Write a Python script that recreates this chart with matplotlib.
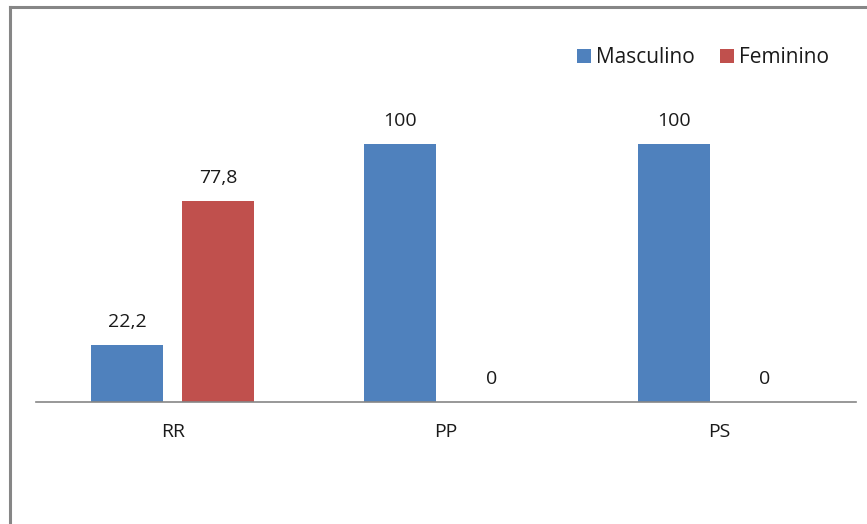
import matplotlib
matplotlib.use("Agg")
import matplotlib.pyplot as plt
from matplotlib.lines import Line2D
import numpy as np

categories = ["RR", "PP", "PS"]
masculino = [22.2, 100, 100]
feminino = [77.8, 0, 0]
labels_m = ["22,2", "100", "100"]
labels_f = ["77,8", "0", "0"]

plt.rcParams['font.family'] = ['Open Sans', 'DejaVu Sans']

W, H = 867, 524
fig = plt.figure(figsize=(W/100, H/100), dpi=100)

# frame lines (top and left visible)
fig.add_artist(Line2D([9.5/W, 1.0], [1-6.5/H, 1-6.5/H], color='#868686', lw=2.2, transform=fig.transFigure))
fig.add_artist(Line2D([9.5/W, 9.5/W], [0, 1-6.5/H], color='#868686', lw=2.2, transform=fig.transFigure))

ax_left, ax_right = 36, 856
ax_bottom, ax_top = 402, 30
ax = fig.add_axes([ax_left/W, 1-ax_bottom/H, (ax_right-ax_left)/W, (ax_bottom-ax_top)/H])
ax.set_xlim(-0.5, 2.5)
ax.set_ylim(0, (ax_bottom-ax_top)/2.58)

x = np.arange(len(categories))
bw = 0.264
off = 0.167
c_m = '#4F81BD'
c_f = '#C0504D'
fs = 14
ax.bar(x-off, masculino, bw, color=c_m, label='Masculino')
ax.bar(x+off, feminino, bw, color=c_f, label='Feminino')

for xi, v, t in zip(x-off, masculino, labels_m):
    ax.annotate(t, (xi, v), xytext=(0, 10), textcoords='offset points', ha='center', va='bottom', fontsize=fs, color='#1a1a1a')
for xi, v, t in zip(x+off, feminino, labels_f):
    ax.annotate(t, (xi, v), xytext=(0, 10), textcoords='offset points', ha='center', va='bottom', fontsize=fs, color='#1a1a1a')

for s in ['top', 'right', 'left']:
    ax.spines[s].set_visible(False)
ax.spines['bottom'].set_color('#868686')
ax.spines['bottom'].set_linewidth(1.2)
ax.set_yticks([])
ax.set_xticks(x)
ax.set_xticklabels(categories, fontsize=fs, color='#1a1a1a')
ax.tick_params(axis='x', length=0, pad=15)

leg = ax.legend(loc='center right', bbox_to_anchor=(829/W, 1-57.5/H), bbox_transform=fig.transFigure,
                ncol=2, frameon=False, fontsize=15, handlelength=0.68, handleheight=0.68,
                handletextpad=0.25, columnspacing=1.2, borderpad=0, borderaxespad=0)
for t in leg.get_texts():
    t.set_color('#1a1a1a')

fig.savefig('out.png', dpi=100)
